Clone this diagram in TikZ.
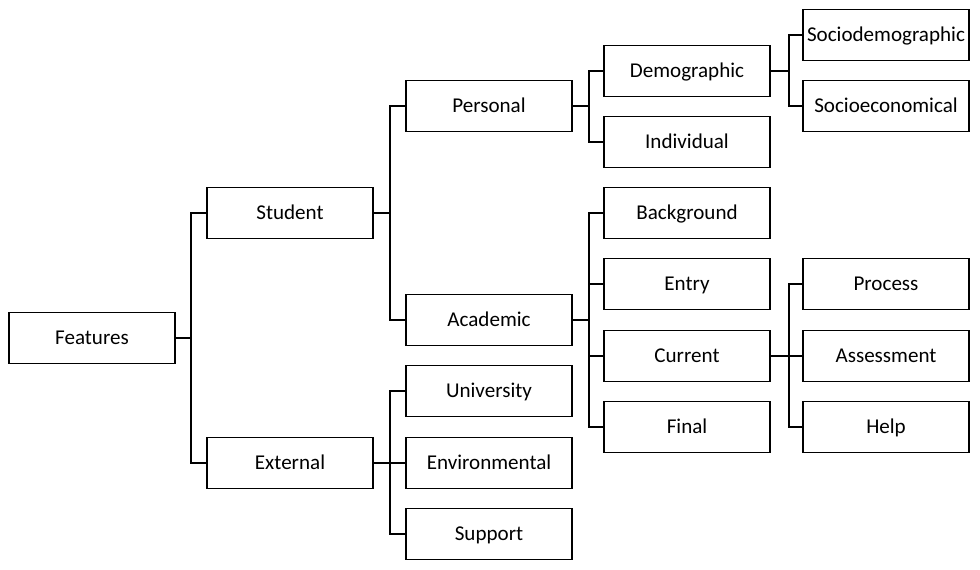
\documentclass[tikz,border=0pt]{standalone}
\usepackage{fontspec}
\setmainfont{Carlito}
\usepackage{tikz}
\tikzset{
  featbox/.style = {draw,line width=1.3pt,minimum width=124.5pt,minimum height=38.25pt,
                    inner sep=0pt,text height=12pt,text depth=2.5pt,
                    font=\fontsize{15.8}{18}\selectfont},
  link/.style    = {line width=1.3pt}
}
\newcommand{\featnode}[3]{%
  \node[featbox] (#1) at (#2) {#3};
}

\begin{document}
\begin{tikzpicture}[x=0.75pt,y=-0.75pt]
  \useasboundingbox (0,0) rectangle (980,569);
  \featnode{features}{92,338}{Features}
  \featnode{student}{290,213}{Student}
  \featnode{external}{290,463}{External}
  \featnode{personal}{489,106}{Personal}
  \featnode{academic}{489,320}{Academic}
  \featnode{university}{489,391}{University}
  \featnode{environmental}{489,463}{Environmental}
  \featnode{support}{489,534}{Support}
  \featnode{demographic}{687,71}{Demographic}
  \featnode{individual}{687,142}{Individual}
  \featnode{background}{687,213}{Background}
  \featnode{entry}{687,284}{Entry}
  \featnode{current}{687,356}{Current}
  \featnode{final}{687,427}{Final}
  \featnode{sociodem}{886,35}{Sociodemographic}
  \featnode{socioeco}{886,106}{Socioeconomical}
  \featnode{process}{886,284}{Process}
  \featnode{assessment}{886,356}{Assessment}
  \featnode{help}{886,427}{Help}
  % tree links
  \foreach \p/\c/\d in {features/student/15,features/external/15,
      student/personal/16,student/academic/16,
      external/university/16,external/environmental/16,external/support/16,
      personal/demographic/16,personal/individual/16,
      academic/background/16,academic/entry/16,academic/current/16,academic/final/16,
      demographic/sociodem/18,demographic/socioeco/18,
      current/process/18,current/assessment/18,current/help/18}
    \draw[link] (\p.east) -- ++(\d,0) |- (\c.west);
\end{tikzpicture}
\end{document}
